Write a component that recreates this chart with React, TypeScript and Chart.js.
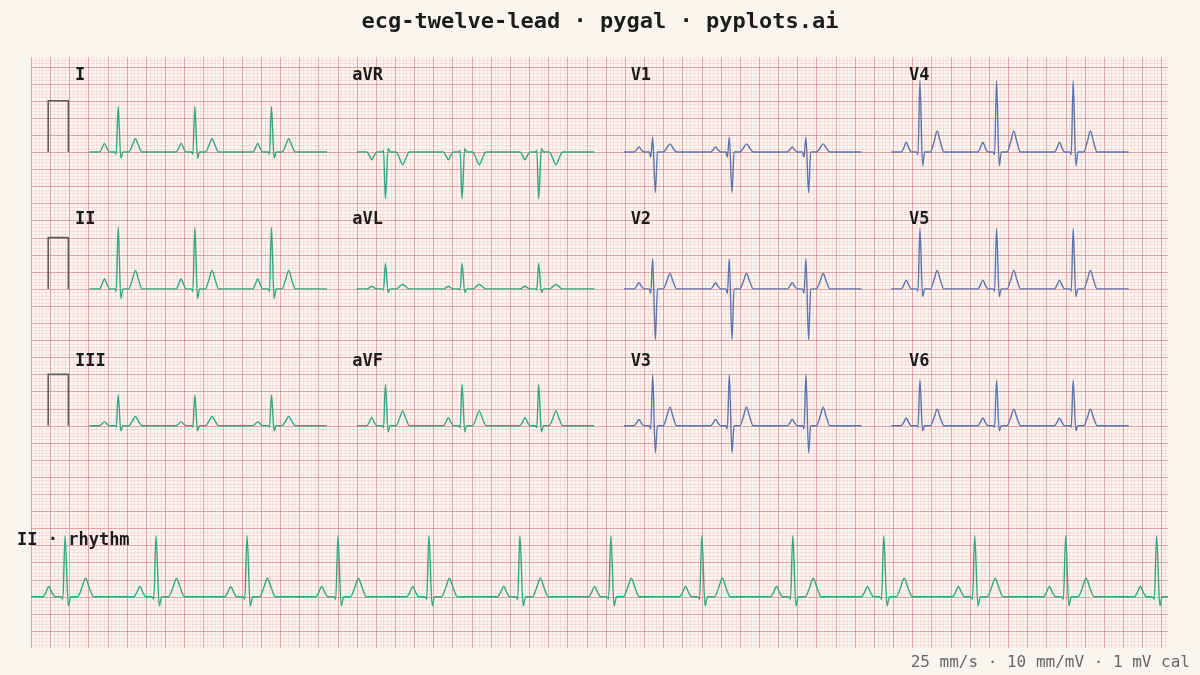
import React, { useEffect, useRef } from "react";
import { Chart, registerables } from "chart.js";

Chart.register(...registerables);

// ---------------- data ----------------
const TITLE = "ecg-twelve-lead · pygal · pyplots.ai";
const FOOTER = "25 mm/s · 10 mm/mV · 1 mV cal";
const RHYTHM_LABEL = "II · rhythm";

const leadNames = ["I", "II", "III", "aVR", "aVL", "aVF", "V1", "V2", "V3", "V4", "V5", "V6"];
// wave amplitudes in mV
const pAmp = [0.17, 0.2, 0.08, -0.15, 0.05, 0.16, 0.1, 0.12, 0.12, 0.19, 0.17, 0.15];
const qAmp = [-0.04, -0.05, -0.03, 0.03, -0.02, -0.04, -0.1, -0.09, -0.06, -0.05, -0.04, -0.03];
const rAmp = [0.89, 1.2, 0.6, -0.91, 0.5, 0.81, 0.29, 0.59, 1.0, 1.39, 1.18, 0.89];
const sAmp = [-0.12, -0.19, -0.1, 0.07, -0.07, -0.12, -0.79, -0.99, -0.53, -0.27, -0.15, -0.1];
const tAmp = [0.26, 0.36, 0.18, -0.25, 0.09, 0.29, 0.16, 0.3, 0.36, 0.41, 0.36, 0.32];

// rhythm strip (lead II)
const rhythmAmp = [0.2, -0.05, 1.19, -0.18, 0.36]; // P, Q, R, S, T

// R-peak times (s) within each 2.5 s panel, and in the 10 s rhythm strip
const panelBeats = [0.3, 1.1, 1.9];
const rhythmBeats = [0.3, 1.1, 1.9, 2.7, 3.5, 4.3, 5.1, 5.9, 6.7, 7.5, 8.3, 9.1, 9.9];

// beat shape: offset from R (s), wave (0=P..4=T, -1=baseline), fraction of wave amplitude
const shapeOffset = [-0.195, -0.168, -0.143, -0.118, -0.09, -0.036, -0.02, 0, 0.028, 0.05, 0.11, 0.148, 0.18, 0.212, 0.25];
const shapeWave = [0, 0, 0, 0, 0, -1, 1, 2, 3, -1, 4, 4, 4, 4, 4];
const shapeFrac = [0, 0.45, 1, 0.45, 0, 0, 1, 1, 1, 0, 0, 0.5, 1, 0.5, 0];

// ---------------- layout ----------------
const X_MAX = 11.87; // seconds across the plot
const Y_MIN = -1;
const Y_MAX = 10.52; // mV
const PANEL_DUR = 2.48;
const RHYTHM_DUR = 10;
const colStart = [0.61, 3.4, 6.19, 8.98];
const rowBase = [8.667, 6, 3.333];
const rhythmBase = 0;
const calStart = 0.18;
const calEnd = 0.39;
const labelX = [0.46, 3.355, 6.26, 9.165];
const labelY = [10.15, 7.35, 4.59];
const rhythmLabelX = -0.146;
const rhythmLabelY = 1.085;

const GREEN = "#33a882";
const BLUE = "#5a76b0";
const PAGE_BG = "#f9f6f0";
const PLOT_BG = "#fcf5f1";

function beatPoints(
  amps: number[],
  beats: number[],
  duration: number,
  x0: number,
  xScale: number,
  base: number
) {
  const pts: { x: number; y: number }[] = [{ x: x0, y: base }];
  for (const b of beats) {
    for (let i = 0; i < shapeOffset.length; i++) {
      const t = b + shapeOffset[i];
      if (t < 0 || t > duration) continue;
      const w = shapeWave[i];
      const v = w < 0 ? 0 : amps[w] * shapeFrac[i];
      pts.push({ x: x0 + t * xScale, y: base + v });
    }
  }
  pts.push({ x: x0 + duration * xScale, y: base });
  return pts;
}

const ecgPlugin = {
  id: "ecgPaper",
  beforeDraw(chart: any) {
    const { ctx, chartArea: ca, scales } = chart;
    const xs = scales.x;
    const ys = scales.y;
    ctx.save();
    ctx.fillStyle = PAGE_BG;
    ctx.fillRect(0, 0, chart.width, chart.height);
    ctx.fillStyle = PLOT_BG;
    ctx.fillRect(ca.left, ca.top, ca.right - ca.left, ca.bottom - ca.top);
    ctx.beginPath();
    ctx.rect(ca.left, ca.top, ca.right - ca.left, ca.bottom - ca.top);
    ctx.clip();
    ctx.lineWidth = 1;
    const drawPass = (major: boolean) => {
      ctx.strokeStyle = major ? "rgba(212, 100, 100, 0.55)" : "rgba(238, 175, 170, 0.28)";
      ctx.beginPath();
      for (let i = 0; i * 0.04 <= X_MAX + 1e-9; i++) {
        if ((i % 5 === 0) !== major) continue;
        const px = Math.round(xs.getPixelForValue(i * 0.04)) + 0.5;
        ctx.moveTo(px, ca.top);
        ctx.lineTo(px, ca.bottom);
      }
      for (let k = Math.ceil(Y_MIN * 15); k <= Math.floor(Y_MAX * 15); k++) {
        if ((((k % 5) + 5) % 5 === 0) !== major) continue;
        const py = Math.round(ys.getPixelForValue(k / 15)) + 0.5;
        ctx.moveTo(ca.left, py);
        ctx.lineTo(ca.right, py);
      }
      ctx.stroke();
    };
    drawPass(false);
    drawPass(true);
    ctx.restore();
  },
  afterDraw(chart: any) {
    const { ctx, scales } = chart;
    const xs = scales.x;
    const ys = scales.y;
    ctx.save();
    ctx.textBaseline = "middle";
    ctx.fillStyle = "#1c1c1c";
    ctx.font = "bold 22px 'DejaVu Sans Mono', monospace";
    ctx.textAlign = "center";
    ctx.fillText(TITLE, chart.width / 2, 22);

    ctx.font = "bold 17px 'DejaVu Sans Mono', monospace";
    ctx.textAlign = "left";
    for (let i = 0; i < leadNames.length; i++) {
      const c = Math.floor(i / 3);
      const r = i % 3;
      ctx.fillText(leadNames[i], xs.getPixelForValue(labelX[c]), ys.getPixelForValue(labelY[r]));
    }
    ctx.fillText(RHYTHM_LABEL, xs.getPixelForValue(rhythmLabelX), ys.getPixelForValue(rhythmLabelY));

    ctx.font = "16px 'DejaVu Sans Mono', monospace";
    ctx.fillStyle = "#666666";
    ctx.textAlign = "right";
    ctx.fillText(FOOTER, chart.width - 10, 663);
    ctx.restore();
  },
};

export default function App() {
  const ref = useRef<HTMLCanvasElement | null>(null);
  useEffect(() => {
    document.body.style.margin = "0";
    const canvas = ref.current;
    if (!canvas) return;
    const datasets: any[] = [];
    for (let i = 0; i < leadNames.length; i++) {
      const c = Math.floor(i / 3);
      const r = i % 3;
      const amps = [pAmp[i], qAmp[i], rAmp[i], sAmp[i], tAmp[i]];
      datasets.push({
        label: leadNames[i],
        data: beatPoints(amps, panelBeats, PANEL_DUR, colStart[c], 1, rowBase[r]),
        borderColor: c >= 2 ? BLUE : GREEN,
        borderWidth: 1.4,
        pointRadius: 0,
        cubicInterpolationMode: "monotone",
        fill: false,
      });
    }
    datasets.push({
      label: RHYTHM_LABEL,
      data: beatPoints(rhythmAmp, rhythmBeats, RHYTHM_DUR, 0, X_MAX / RHYTHM_DUR, rhythmBase),
      borderColor: GREEN,
      borderWidth: 1.4,
      pointRadius: 0,
      cubicInterpolationMode: "monotone",
      fill: false,
    });
    for (let r = 0; r < rowBase.length; r++) {
      datasets.push({
        label: "cal" + r,
        data: [
          { x: calStart, y: rowBase[r] },
          { x: calStart, y: rowBase[r] + 1 },
          { x: calEnd, y: rowBase[r] + 1 },
          { x: calEnd, y: rowBase[r] },
        ],
        borderColor: "#5e5e5e",
        borderWidth: 1.6,
        pointRadius: 0,
        tension: 0,
        fill: false,
      });
    }
    const chart = new Chart(canvas, {
      type: "line",
      data: { datasets },
      options: {
        animation: false,
        responsive: false,
        devicePixelRatio: 1,
        layout: { padding: { left: 31, right: 32, top: 57, bottom: 27 } },
        plugins: { legend: { display: false }, tooltip: { enabled: false }, title: { display: false } },
        scales: {
          x: { type: "linear", min: 0, max: X_MAX, display: false },
          y: { type: "linear", min: Y_MIN, max: Y_MAX, display: false },
        },
      },
      plugins: [ecgPlugin],
    } as any);
    return () => chart.destroy();
  }, []);
  return (
    <div style={{ position: "absolute", left: 0, top: 0, width: 1200, height: 675 }}>
      <canvas ref={ref} width={1200} height={675} style={{ display: "block" }} />
    </div>
  );
}
